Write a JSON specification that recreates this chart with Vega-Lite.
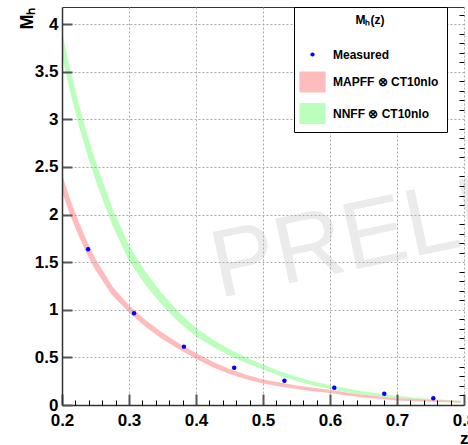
{
  "$schema": "https://vega.github.io/schema/vega-lite/v6.json",
  "width": 402,
  "height": 398,
  "autosize": {"type": "none"},
  "padding": {"left": 62, "top": 7, "right": 4, "bottom": 40},
  "background": "white",
  "config": {"view": {"stroke": null}, "font": "Liberation Sans"},
  "datasets": {
    "wm": [{"z": 0.434, "M": 1.12, "t": "PRELIMINARY"}],
    "green": [
      {"z": 0.200, "lo": 3.665, "hi": 3.915, "series": "NNFF \u2297 CT10nlo"},
      {"z": 0.2125, "lo": 3.28, "hi": 3.52, "series": "NNFF \u2297 CT10nlo"},
      {"z": 0.225, "lo": 2.935, "hi": 3.165, "series": "NNFF \u2297 CT10nlo"},
      {"z": 0.2375, "lo": 2.633, "hi": 2.847, "series": "NNFF \u2297 CT10nlo"},
      {"z": 0.250, "lo": 2.36, "hi": 2.56, "series": "NNFF \u2297 CT10nlo"},
      {"z": 0.275, "lo": 1.89, "hi": 2.07, "series": "NNFF \u2297 CT10nlo"},
      {"z": 0.300, "lo": 1.515, "hi": 1.675, "series": "NNFF \u2297 CT10nlo"},
      {"z": 0.325, "lo": 1.257, "hi": 1.397, "series": "NNFF \u2297 CT10nlo"},
      {"z": 0.350, "lo": 1.045, "hi": 1.165, "series": "NNFF \u2297 CT10nlo"},
      {"z": 0.375, "lo": 0.867, "hi": 0.971, "series": "NNFF \u2297 CT10nlo"},
      {"z": 0.400, "lo": 0.72, "hi": 0.81, "series": "NNFF \u2297 CT10nlo"},
      {"z": 0.425, "lo": 0.612, "hi": 0.688, "series": "NNFF \u2297 CT10nlo"},
      {"z": 0.450, "lo": 0.521, "hi": 0.585, "series": "NNFF \u2297 CT10nlo"},
      {"z": 0.475, "lo": 0.442, "hi": 0.498, "series": "NNFF \u2297 CT10nlo"},
      {"z": 0.500, "lo": 0.375, "hi": 0.425, "series": "NNFF \u2297 CT10nlo"},
      {"z": 0.525, "lo": 0.308, "hi": 0.354, "series": "NNFF \u2297 CT10nlo"},
      {"z": 0.550, "lo": 0.252, "hi": 0.296, "series": "NNFF \u2297 CT10nlo"},
      {"z": 0.575, "lo": 0.206, "hi": 0.248, "series": "NNFF \u2297 CT10nlo"},
      {"z": 0.600, "lo": 0.167, "hi": 0.209, "series": "NNFF \u2297 CT10nlo"},
      {"z": 0.625, "lo": 0.134, "hi": 0.172, "series": "NNFF \u2297 CT10nlo"},
      {"z": 0.650, "lo": 0.108, "hi": 0.142, "series": "NNFF \u2297 CT10nlo"},
      {"z": 0.675, "lo": 0.087, "hi": 0.117, "series": "NNFF \u2297 CT10nlo"},
      {"z": 0.700, "lo": 0.070, "hi": 0.096, "series": "NNFF \u2297 CT10nlo"},
      {"z": 0.725, "lo": 0.054, "hi": 0.078, "series": "NNFF \u2297 CT10nlo"},
      {"z": 0.750, "lo": 0.042, "hi": 0.064, "series": "NNFF \u2297 CT10nlo"},
      {"z": 0.775, "lo": 0.032, "hi": 0.052, "series": "NNFF \u2297 CT10nlo"},
      {"z": 0.795, "lo": 0.025, "hi": 0.045, "series": "NNFF \u2297 CT10nlo"}
    ],
    "pink": [
      {"z": 0.200, "lo": 2.24, "hi": 2.42, "series": "MAPFF \u2297 CT10nlo"},
      {"z": 0.2125, "lo": 1.988, "hi": 2.152, "series": "MAPFF \u2297 CT10nlo"},
      {"z": 0.225, "lo": 1.775, "hi": 1.925, "series": "MAPFF \u2297 CT10nlo"},
      {"z": 0.2375, "lo": 1.583, "hi": 1.717, "series": "MAPFF \u2297 CT10nlo"},
      {"z": 0.250, "lo": 1.415, "hi": 1.535, "series": "MAPFF \u2297 CT10nlo"},
      {"z": 0.275, "lo": 1.153, "hi": 1.247, "series": "MAPFF \u2297 CT10nlo"},
      {"z": 0.300, "lo": 0.972, "hi": 1.048, "series": "MAPFF \u2297 CT10nlo"},
      {"z": 0.325, "lo": 0.819, "hi": 0.891, "series": "MAPFF \u2297 CT10nlo"},
      {"z": 0.350, "lo": 0.691, "hi": 0.759, "series": "MAPFF \u2297 CT10nlo"},
      {"z": 0.375, "lo": 0.583, "hi": 0.647, "series": "MAPFF \u2297 CT10nlo"},
      {"z": 0.400, "lo": 0.485, "hi": 0.545, "series": "MAPFF \u2297 CT10nlo"},
      {"z": 0.425, "lo": 0.397, "hi": 0.453, "series": "MAPFF \u2297 CT10nlo"},
      {"z": 0.450, "lo": 0.326, "hi": 0.378, "series": "MAPFF \u2297 CT10nlo"},
      {"z": 0.475, "lo": 0.271, "hi": 0.319, "series": "MAPFF \u2297 CT10nlo"},
      {"z": 0.500, "lo": 0.227, "hi": 0.269, "series": "MAPFF \u2297 CT10nlo"},
      {"z": 0.525, "lo": 0.195, "hi": 0.235, "series": "MAPFF \u2297 CT10nlo"},
      {"z": 0.550, "lo": 0.168, "hi": 0.206, "series": "MAPFF \u2297 CT10nlo"},
      {"z": 0.575, "lo": 0.145, "hi": 0.181, "series": "MAPFF \u2297 CT10nlo"},
      {"z": 0.600, "lo": 0.125, "hi": 0.159, "series": "MAPFF \u2297 CT10nlo"},
      {"z": 0.625, "lo": 0.099, "hi": 0.131, "series": "MAPFF \u2297 CT10nlo"},
      {"z": 0.650, "lo": 0.079, "hi": 0.107, "series": "MAPFF \u2297 CT10nlo"},
      {"z": 0.675, "lo": 0.062, "hi": 0.088, "series": "MAPFF \u2297 CT10nlo"},
      {"z": 0.700, "lo": 0.048, "hi": 0.072, "series": "MAPFF \u2297 CT10nlo"},
      {"z": 0.725, "lo": 0.040, "hi": 0.062, "series": "MAPFF \u2297 CT10nlo"},
      {"z": 0.750, "lo": 0.033, "hi": 0.055, "series": "MAPFF \u2297 CT10nlo"},
      {"z": 0.775, "lo": 0.028, "hi": 0.048, "series": "MAPFF \u2297 CT10nlo"},
      {"z": 0.795, "lo": 0.023, "hi": 0.043, "series": "MAPFF \u2297 CT10nlo"}
    ],
    "pts": [
      {"z": 0.239, "M": 1.636, "series": "Measured"},
      {"z": 0.3075, "M": 0.963, "series": "Measured"},
      {"z": 0.382, "M": 0.613, "series": "Measured"},
      {"z": 0.457, "M": 0.392, "series": "Measured"},
      {"z": 0.532, "M": 0.255, "series": "Measured"},
      {"z": 0.6064, "M": 0.182, "series": "Measured"},
      {"z": 0.681, "M": 0.119, "series": "Measured"},
      {"z": 0.7542, "M": 0.070, "series": "Measured"}
    ]
  },
  "resolve": {"scale": {"x": "shared", "y": "shared", "color": "shared"}, "axis": {"x": "independent", "y": "independent"}},
  "layer": [
    {
      "data": {"name": "wm"},
      "mark": {"type": "text", "align": "left", "baseline": "alphabetic", "angle": -12, "fontSize": 96, "font": "Liberation Sans", "color": "#ebebeb"},
      "encoding": {
        "x": {"field": "z", "type": "quantitative", "scale": {"domain": [0.2, 0.8], "nice": false, "zero": false},
              "axis": {"orient": "top", "domain": true, "domainColor": "#333", "domainWidth": 1, "ticks": false, "labels": false, "grid": false, "title": null}},
        "y": {"field": "M", "type": "quantitative", "axis": null},
        "text": {"field": "t"}
      }
    },
    {
      "data": {"name": "green"},
      "mark": {"type": "area", "opacity": 1, "interpolate": "linear"},
      "encoding": {
        "x": {"field": "z", "type": "quantitative", "scale": {"domain": [0.2, 0.8], "nice": false, "zero": false},
              "axis": {"values": [0.2, 0.3, 0.4, 0.5, 0.6, 0.7, 0.8], "format": "~g", "tickSize": -11, "tickWidth": 2, "tickColor": "#555",
                       "labelPadding": 18, "labelFlush": false, "labelOverlap": false, "labelFont": "Liberation Sans", "labelFontWeight": "bold", "labelFontSize": 17, "labelColor": "black",
                       "grid": true, "gridDash": [2, 2], "gridColor": "#aaaaaa", "gridWidth": 1,
                       "domain": true, "domainColor": "#333", "domainWidth": 1.5, "zindex": 1,
                       "title": "z", "titleFont": "Liberation Sans", "titleFontWeight": "bold", "titleFontSize": 17, "titleColor": "black",
                       "titleX": 406, "titleY": 38, "titleAlign": "right", "titleBaseline": "alphabetic", "titleAnchor": "end"}},
        "y": {"field": "lo", "type": "quantitative", "scale": {"domain": [0, 4.18], "nice": false, "zero": false},
              "axis": {"values": [0, 0.5, 1, 1.5, 2, 2.5, 3, 3.5, 4], "format": "~g", "tickSize": -10, "tickWidth": 2, "tickColor": "#555",
                       "labelPadding": 14, "labelFlush": false, "labelOverlap": false, "labelFont": "Liberation Sans", "labelFontWeight": "bold", "labelFontSize": 17, "labelColor": "black",
                       "grid": true, "gridDash": [2, 2], "gridColor": "#aaaaaa", "gridWidth": 1,
                       "domain": true, "domainColor": "#333", "domainWidth": 1.5, "zindex": 1,
                       "title": "M\u2095", "titleFont": "Liberation Sans", "titleFontWeight": "bold", "titleFontSize": 18, "titleColor": "black",
                       "titleX": -30, "titleY": 0, "titleAngle": 270, "titleAlign": "right", "titleBaseline": "alphabetic", "titleAnchor": "end"}},
        "y2": {"field": "hi"},
        "color": {"field": "series", "type": "nominal",
                  "scale": {"domain": ["Measured", "MAPFF \u2297 CT10nlo", "NNFF \u2297 CT10nlo"], "range": ["#0000ff", "#ffbcbc", "#bcffbc"]},
                  "legend": {"orient": "none", "legendX": 232, "legendY": 0,
                             "title": "M\u2095(z)", "titleAnchor": "middle", "titleFont": "Liberation Sans", "titleFontWeight": "bold", "titleFontSize": 12, "titleColor": "black", "titlePadding": 17,
                             "labelFont": "Liberation Sans", "labelFontWeight": "bold", "labelFontSize": 12, "labelColor": "black", "labelOffset": 10,
                             "symbolSize": 441, "symbolType": "square", "symbolStrokeWidth": 0, "symbolOpacity": 1,
                             "rowPadding": 10.5, "padding": 8, "fillColor": "white", "strokeColor": "black", "zindex": 5,
                             "encode": {"symbols": {"update": {
                               "shape": {"signal": "datum.value === 'Measured' ? 'circle' : 'M-1.25,-1H1.25V1H-1.25Z'"},
                               "size": {"signal": "datum.value === 'Measured' ? 18 : 441"},
                               "fill": {"signal": "scale('color', datum.value)"},
                               "opacity": {"value": 1},
                               "strokeWidth": {"value": 0}}}}}}
      }
    },
    {
      "data": {"name": "pink"},
      "mark": {"type": "area", "opacity": 1, "interpolate": "linear"},
      "encoding": {
        "x": {"field": "z", "type": "quantitative", "axis": null},
        "y": {"field": "lo", "type": "quantitative", "axis": null},
        "y2": {"field": "hi"},
        "color": {"field": "series", "type": "nominal"}
      }
    },
    {
      "data": {"name": "pts"},
      "mark": {"type": "point", "filled": true, "size": 20, "opacity": 1},
      "encoding": {
        "x": {"field": "z", "type": "quantitative",
              "axis": {"values": [0.22, 0.24, 0.26, 0.28, 0.32, 0.34, 0.36, 0.38, 0.42, 0.44, 0.46, 0.48, 0.52, 0.54, 0.56, 0.58, 0.62, 0.64, 0.66, 0.68, 0.72, 0.74, 0.76, 0.78],
                       "tickSize": -5, "tickWidth": 1, "tickColor": "black", "labels": false, "domain": false, "grid": false, "title": null, "zindex": 1}},
        "y": {"field": "M", "type": "quantitative",
              "axis": {"values": [0.1, 0.2, 0.3, 0.4, 0.6, 0.7, 0.8, 0.9, 1.1, 1.2, 1.3, 1.4, 1.6, 1.7, 1.8, 1.9, 2.1, 2.2, 2.3, 2.4, 2.6, 2.7, 2.8, 2.9, 3.1, 3.2, 3.3, 3.4, 3.6, 3.7, 3.8, 3.9, 4.1],
                       "tickSize": -5, "tickWidth": 1, "tickColor": "black", "labels": false, "domain": false, "grid": false, "title": null, "zindex": 1}},
        "color": {"field": "series", "type": "nominal"}
      }
    }
  ]
}
